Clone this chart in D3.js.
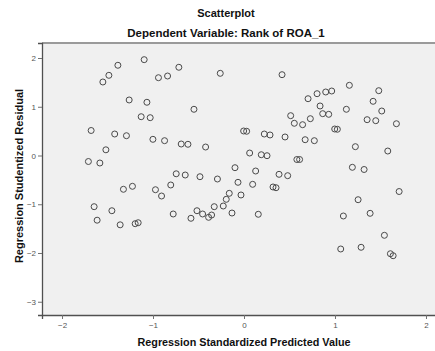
<!DOCTYPE html>
<html>
<head>
<meta charset="utf-8">
<script src="https://cdn.jsdelivr.net/npm/d3@7"></script>
<style>
  body { margin: 0; background: #fff; }
  text { font-family: "Liberation Sans", Arial, sans-serif; }
</style>
</head>
<body>
<svg id="chart"></svg>
<script>
// standardized predicted value (x) and studentized residual (y)
const predicted = [
  -1.386, -1.097, -0.716, -1.485, -1.551, -0.940, -0.840, -1.262, -1.067, -1.130,
  -1.031, -1.680, -1.421, -1.292, -1.001, -0.873, -0.690, -1.518, -1.710, -1.584,
  -0.745, -1.325, -1.226, -0.973, -0.805, -0.906, -1.647, -1.452, -0.778, -1.614,
  -1.361, -1.196, -1.163, -0.261, 0.418, 0.704, -0.550, 0.513, 0.553, 0.644,
  0.729, -0.004, 0.029, 0.223, 0.286, 0.451, 0.672, -0.616, -0.422, 0.062,
  0.190, 0.253, 0.581, 0.611, -0.099, 0.128, -0.646, -0.484, -0.292, 0.385,
  0.480, -0.066, 0.095, 0.319, 0.352, -0.162, -0.033, -0.195, -0.327, -0.228,
  -0.517, -0.455, -0.356, -0.389, -0.583, -0.132, 0.157, 1.158, 1.481, 0.803,
  0.898, 0.964, 0.836, 1.419, 1.514, 1.125, 0.865, 0.931, 1.353, 1.448,
  1.675, 0.997, 1.026, 0.773, 1.224, 1.580, 1.191, 1.320, 1.705, 1.254,
  1.092, 1.386, 1.543, 1.063, 1.287, 1.609, 1.639
];
const residual = [
  1.851, 1.966, 1.810, 1.645, 1.508, 1.596, 1.631, 1.139, 1.092, 0.796,
  0.776, 0.513, 0.441, 0.406, 0.332, 0.304, 0.236, 0.117, -0.123, -0.154,
  -0.375, -0.693, -0.632, -0.702, -0.605, -0.831, -1.050, -1.133, -1.200, -1.327,
  -1.422, -1.399, -1.379, 1.686, 1.658, 1.165, 0.948, 0.817, 0.661, 0.632,
  0.755, 0.503, 0.497, 0.441, 0.421, 0.380, 0.324, 0.230, 0.174, 0.051,
  0.016, -0.004, -0.082, -0.082, -0.250, -0.318, -0.400, -0.435, -0.482, -0.386,
  -0.414, -0.550, -0.591, -0.646, -0.661, -0.776, -0.810, -0.899, -1.050, -1.036,
  -1.133, -1.200, -1.221, -1.268, -1.288, -1.180, -1.206, 1.440, 1.330, 1.268,
  1.303, 1.323, 1.016, 1.112, 0.913, 0.948, 0.858, 0.845, 0.735, 0.714,
  0.652, 0.544, 0.538, 0.304, 0.181, 0.092, -0.242, -0.287, -0.739, -0.907,
  -1.241, -1.186, -1.637, -1.918, -1.883, -2.015, -2.056
];
const xTicks = [-2, -1, 0, 1, 2];
const yTicks = [-3, -2, -1, 0, 1, 2];

const width = 435;
const height = 351;
const plot = { left: 42, top: 43, right: 446, bottom: 315 };

const svg = d3.select('#chart')
  .attr('width', width)
  .attr('height', height);

const x = d3.scaleLinear().domain([-2.22, 2.22]).range([plot.left, plot.right]);
const y = d3.scaleLinear().domain([-3.272, 2.308]).range([plot.bottom, plot.top]);

// plot background
svg.append('rect')
  .attr('x', plot.left)
  .attr('y', plot.top)
  .attr('width', plot.right - plot.left)
  .attr('height', plot.bottom - plot.top)
  .attr('fill', '#f0f0f0');

// top frame line, lighter
svg.append('line')
  .attr('x1', plot.left).attr('x2', plot.right)
  .attr('y1', plot.top).attr('y2', plot.top)
  .attr('stroke', '#9a9a9a')
  .attr('stroke-width', 2);

// axes
const xAxis = svg.append('g')
  .attr('transform', `translate(0,${plot.bottom})`)
  .call(d3.axisBottom(x).tickValues(xTicks).tickSize(4).tickPadding(3).tickFormat(d3.format('d')));

const yAxis = svg.append('g')
  .attr('transform', `translate(${plot.left},0)`)
  .call(d3.axisLeft(y).tickValues(yTicks).tickSize(4).tickPadding(2).tickFormat(d3.format('d')));

[xAxis, yAxis].forEach(g => {
  g.select('.domain').attr('stroke', '#505050').attr('stroke-width', 1.3);
  g.selectAll('.tick line').attr('stroke', '#707070');
  g.selectAll('.tick text')
    .attr('fill', '#555')
    .style('font-size', '8px')
    .style('font-family', '"Liberation Sans", Arial, sans-serif');
});

// points
svg.append('g')
  .selectAll('circle')
  .data(predicted.map((p, i) => [p, residual[i]]))
  .enter()
  .append('circle')
  .attr('cx', d => x(d[0]))
  .attr('cy', d => y(d[1]))
  .attr('r', 3)
  .attr('fill', 'none')
  .attr('stroke', '#4a4a4a')
  .attr('stroke-width', 1);

// titles
svg.append('text')
  .attr('x', 226)
  .attr('y', 17)
  .attr('text-anchor', 'middle')
  .style('font-size', '11px')
  .style('font-weight', 'bold')
  .attr('fill', '#111')
  .text('Scatterplot');

svg.append('text')
  .attr('x', 226)
  .attr('y', 37)
  .attr('text-anchor', 'middle')
  .style('font-size', '11.5px')
  .style('font-weight', 'bold')
  .attr('fill', '#111')
  .text('Dependent Variable: Rank of ROA_1');

svg.append('text')
  .attr('x', 244)
  .attr('y', 346)
  .attr('text-anchor', 'middle')
  .style('font-size', '10.8px')
  .style('font-weight', 'bold')
  .attr('fill', '#111')
  .text('Regression Standardized Predicted Value');

svg.append('text')
  .attr('transform', 'translate(23,176) rotate(-90)')
  .attr('text-anchor', 'middle')
  .style('font-size', '11px')
  .style('font-weight', 'bold')
  .attr('fill', '#111')
  .text('Regression Studentized Residual');
</script>
</body>
</html>
